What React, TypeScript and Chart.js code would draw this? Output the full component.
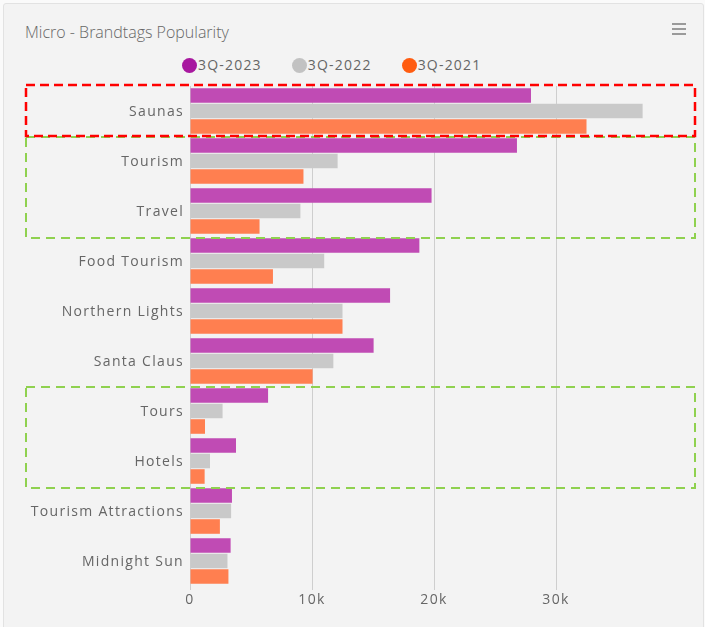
import React, { useEffect, useRef } from "react";
import { Chart, registerables } from "chart.js";

Chart.register(...registerables);

const categories = [
  "Saunas",
  "Tourism",
  "Travel",
  "Food Tourism",
  "Northern Lights",
  "Santa Claus",
  "Tours",
  "Hotels",
  "Tourism Attractions",
  "Midnight Sun",
];

const seriesNames = ["3Q-2023", "3Q-2022", "3Q-2021"];
const values2023 = [27950, 26800, 19800, 18800, 16400, 15050, 6400, 3770, 3440, 3330];
const values2022 = [37100, 12100, 9050, 11000, 12500, 11750, 2670, 1640, 3370, 3070];
const values2021 = [32500, 9300, 5700, 6800, 12500, 10050, 1230, 1200, 2450, 3150];

const xTicks = [0, 10000, 20000, 30000];
const xTickLabels = ["0", "10k", "20k", "30k"];

const redGroups = [["Saunas"]];
const greenGroups = [
  ["Tourism", "Travel"],
  ["Tours", "Hotels"],
];

const legendColors = ["#a8189f", "#c2c2c2", "#ff5c10"];
const barColors = ["#c04bb4", "#c9c9c9", "#ff7f50"];

const FONT = "'Open Sans', 'Noto Sans', sans-serif";

const spacingPlugin = {
  id: "spacing",
  beforeDraw(chart: any) {
    chart.ctx.letterSpacing = "1.3px";
  },
};

const highlightPlugin = {
  id: "highlight",
  afterDraw(chart: any) {
    const y = chart.scales.y;
    const ctx = chart.ctx;
    const half = (y.getPixelForValue(1) - y.getPixelForValue(0)) / 2;
    const draw = (
      group: string[],
      color: string,
      width: number,
      dash: number[],
      dt: number,
      db: number
    ) => {
      const idx = group.map((c) => categories.indexOf(c));
      const top = y.getPixelForValue(Math.min(...idx)) - half + dt;
      const bottom = y.getPixelForValue(Math.max(...idx)) + half + db;
      const left = 26;
      const right = 695;
      ctx.save();
      ctx.strokeStyle = color;
      ctx.lineWidth = width;
      ctx.setLineDash(dash);
      ctx.strokeRect(left, top, right - left, bottom - top);
      ctx.restore();
    };
    greenGroups.forEach((g) => draw(g, "#8fd14f", 2, [9, 6], 1, 2));
    redGroups.forEach((g) => draw(g, "#ff0000", 2.5, [9, 5], -1, 0));
  },
};

export default function App() {
  const canvasRef = useRef<HTMLCanvasElement | null>(null);

  useEffect(() => {
    if (!canvasRef.current) return;
    const chart = new Chart(canvasRef.current, {
      type: "bar",
      data: {
        labels: categories,
        datasets: [values2023, values2022, values2021].map((vals, i) => ({
          label: seriesNames[i],
          data: vals,
          backgroundColor: barColors[i],
          borderWidth: 0,
          barPercentage: 0.94,
          categoryPercentage: 0.93,
        })),
      },
      options: {
        indexAxis: "y",
        animation: false,
        responsive: false,
        layout: { padding: { left: 0, top: 86, right: 27, bottom: 0 } },
        plugins: {
          legend: { display: false },
          title: { display: false },
          tooltip: { enabled: false },
        },
        scales: {
          x: {
            type: "linear",
            min: 0,
            max: 40000,
            z: 1,
            afterBuildTicks: (scale: any) => {
              scale.ticks = xTicks.map((v) => ({ value: v }));
            },
            afterFit: (scale: any) => {
              scale.height = 41;
            },
            border: { display: false },
            grid: {
              color: "rgba(0,0,0,0.15)",
              lineWidth: 1,
              drawTicks: true,
              tickLength: 4,
            },
            ticks: {
              padding: 2,
              color: "#666",
              font: { family: FONT, size: 14 },
              maxRotation: 0,
              callback: (value: any) => {
                const i = xTicks.indexOf(Number(value));
                return i >= 0 ? xTickLabels[i] : "";
              },
            },
          },
          y: {
            afterFit: (scale: any) => {
              scale.width = 190;
            },
            border: { display: false },
            grid: { display: false, drawTicks: false },
            ticks: {
              padding: 6,
              labelOffset: 1,
              color: "#666",
              font: { family: FONT, size: 14 },
            },
          },
        },
      },
      plugins: [spacingPlugin, highlightPlugin],
    } as any);
    return () => chart.destroy();
  }, []);

  return (
    <div
      style={{
        position: "absolute",
        left: 0,
        top: 0,
        width: 705,
        height: 627,
        overflow: "hidden",
        background: "#fafafa",
        fontFamily: FONT,
      }}
    >
      <div
        style={{
          position: "absolute",
          left: 3,
          top: 3,
          width: 699,
          height: 640,
          background: "#f3f3f3",
          border: "1px solid #e2e2e2",
          borderRadius: 3,
        }}
      />
      <div
        style={{
          position: "absolute",
          left: 25,
          top: 22,
          fontSize: 16,
          lineHeight: "20px",
          fontWeight: 300,
          color: "#666",
          whiteSpace: "nowrap",
        }}
      >
        Micro - Brandtags Popularity
      </div>
      <div style={{ position: "absolute", left: 672, top: 23, width: 14 }}>
        {[0, 1, 2].map((i) => (
          <div
            key={i}
            style={{ height: 2, background: "#9a9a9a", marginBottom: 3 }}
          />
        ))}
      </div>
      <div
        style={{
          position: "absolute",
          left: 182,
          top: 55,
          height: 20,
          display: "flex",
          alignItems: "center",
          gap: 30,
        }}
      >
        {seriesNames.map((name, i) => (
          <div key={name} style={{ display: "flex", alignItems: "center" }}>
            <span
              style={{
                width: 15,
                height: 15,
                borderRadius: "50%",
                background: legendColors[i],
                display: "inline-block",
                marginRight: 1,
              }}
            />
            <span
              style={{
                fontSize: 14,
                lineHeight: "20px",
                color: "#666",
                letterSpacing: "1.2px",
              }}
            >
              {name}
            </span>
          </div>
        ))}
      </div>
      <canvas
        ref={canvasRef}
        width={705}
        height={627}
        style={{ position: "absolute", left: 0, top: 0, width: 705, height: 627 }}
      />
    </div>
  );
}
